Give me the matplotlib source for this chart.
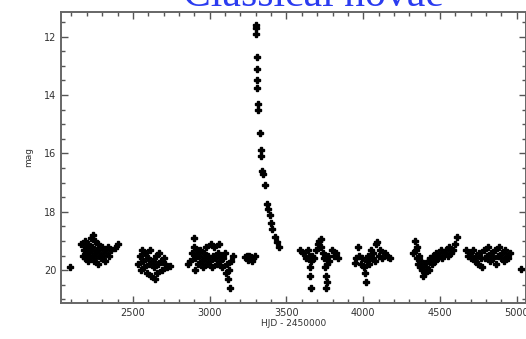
import numpy as np
import matplotlib
matplotlib.use("Agg")
import matplotlib.pyplot as plt
from matplotlib.ticker import MultipleLocator

# light curve points (HJD-2450000, mag)
c1_x = [2165, 2172, 2180, 2185, 2190, 2196, 2200, 2205, 2210, 2214, 2220, 2225, 2230, 2236, 2240, 2245, 2250,
        2256, 2260, 2266, 2270, 2276, 2282, 2290, 2296, 2302, 2310, 2318, 2325, 2335, 2345, 2360, 2385, 2405]
c1_y = [19.1, 19.5, 19.3, 19.0, 19.6, 19.2, 19.4, 19.7, 19.1, 19.5, 19.3, 18.9, 19.6, 19.2, 18.8, 19.4, 19.7,
        19.0, 19.5, 19.3, 19.8, 19.1, 19.4, 19.6, 19.2, 19.5, 19.3, 19.7, 19.4, 19.2, 19.5, 19.3, 19.25, 19.1]

c2_x = [2535, 2545, 2552, 2560, 2568, 2575, 2582, 2590, 2598, 2605, 2612, 2620, 2628,
        2635, 2642, 2650, 2658, 2665, 2672, 2680, 2690, 2700, 2712, 2725, 2740]
c2_y = [19.8, 19.5, 20.0, 19.3, 19.7, 19.9, 19.4, 20.1, 19.6, 19.8, 19.3, 20.2, 19.7,
        19.9, 20.3, 19.5, 20.1, 19.8, 19.4, 19.7, 20.0, 19.6, 19.8, 19.9, 19.85]

c3_x = [2858, 2870, 2885, 2895, 2898, 2902, 2905, 2910, 2918, 2925, 2932, 2940, 2948, 2955, 2962, 2970, 2978,
        2985, 2992, 3000, 3008, 3015, 3022, 3030, 3038, 3045, 3052, 3060, 3068, 3075, 3082, 3090, 3098,
        3105, 3112, 3118, 3125, 3132, 3140, 3150]
c3_y = [19.8, 19.7, 19.4, 18.9, 19.2, 19.6, 20.0, 19.5, 19.3, 19.8, 19.5, 19.3, 19.7, 19.9, 19.4, 19.6, 19.2,
        19.8, 19.5, 19.7, 19.1, 19.9, 19.5, 19.2, 19.6, 19.8, 19.4, 19.1, 19.7, 19.5, 19.9, 19.6, 19.4,
        20.1, 19.8, 20.3, 20.0, 20.6, 19.7, 19.5]

c4_x = [3232, 3240, 3248, 3255, 3262, 3270, 3278, 3285, 3292]
c4_y = [19.55, 19.5, 19.65, 19.5, 19.6, 19.55, 19.7, 19.6, 19.5]

nova_x = [3302, 3303, 3304, 3308, 3309, 3310, 3311, 3313, 3314, 3325, 3333, 3336,
          3343, 3346, 3362, 3374, 3378, 3390, 3398, 3408, 3425, 3438, 3450]
nova_y = [11.6, 11.7, 11.9, 12.7, 13.1, 13.5, 13.75, 14.3, 14.5, 15.3, 15.9, 16.1,
          16.6, 16.7, 17.1, 17.75, 17.9, 18.1, 18.4, 18.6, 18.85, 19.05, 19.2]

c5_x = [3590, 3605, 3625, 3640, 3648, 3652, 3655, 3658, 3662, 3668, 3680, 3695, 3705, 3715, 3722,
        3728, 3735, 3745, 3750, 3755, 3758, 3762, 3765, 3770, 3780, 3795, 3810, 3825, 3835]
c5_y = [19.3, 19.4, 19.6, 19.3, 19.5, 19.9, 20.2, 20.6, 19.7, 19.5, 19.6, 19.3, 19.1, 19.0, 18.95,
        19.2, 19.4, 19.6, 19.9, 20.2, 20.6, 20.4, 19.8, 19.5, 19.7, 19.3, 19.5, 19.4, 19.6]

c6_x = [3945, 3955, 3965, 3975, 3985, 3995, 4005, 4012, 4020, 4025, 4032, 4040,
        4048, 4055, 4065, 4075, 4085, 4092, 4100, 4110, 4125, 4140, 4160, 4175]
c6_y = [19.75, 19.6, 19.2, 19.5, 19.8, 19.6, 19.9, 20.1, 20.4, 19.7, 19.5, 19.8,
        19.3, 19.6, 19.4, 19.7, 19.1, 19.05, 19.5, 19.3, 19.6, 19.4, 19.55, 19.6]

c7_x = [4325, 4340, 4345, 4350, 4352, 4355, 4360, 4368, 4375, 4382, 4390, 4398, 4405, 4412, 4420, 4428, 4436,
        4445, 4455, 4465, 4475, 4485, 4495, 4505, 4515, 4525, 4540, 4550, 4560, 4572, 4585, 4595, 4608]
c7_y = [19.4, 19.0, 19.3, 19.6, 19.2, 19.8, 19.5, 19.9, 19.7, 20.0, 20.2, 19.8, 20.1, 19.9, 19.7, 20.0, 19.6,
        19.8, 19.5, 19.7, 19.4, 19.6, 19.5, 19.3, 19.6, 19.4, 19.3, 19.5, 19.2, 19.4, 19.3, 19.1, 18.85]

c8_x = [4672, 4685, 4695, 4705, 4715, 4725, 4735, 4745, 4755, 4765, 4775, 4785, 4795, 4805, 4815,
        4825, 4835, 4845, 4855, 4865, 4875, 4885, 4895, 4905, 4915, 4925, 4935, 4945, 4955]
c8_y = [19.3, 19.5, 19.4, 19.6, 19.3, 19.7, 19.5, 19.8, 19.4, 19.6, 19.9, 19.3, 19.6, 19.5, 19.2,
        19.7, 19.4, 19.6, 19.3, 19.8, 19.5, 19.2, 19.6, 19.4, 19.7, 19.3, 19.5, 19.6, 19.4]

extra_x = [2090, 5030]
extra_y = [19.9, 19.95]

hjd = np.concatenate([c1_x, c2_x, c3_x, c4_x, nova_x, c5_x, c6_x, c7_x, c8_x, extra_x])
mag = np.concatenate([c1_y, c2_y, c3_y, c4_y, nova_y, c5_y, c6_y, c7_y, c8_y, extra_y])

fig = plt.figure(figsize=(5.26, 3.39), dpi=100)
ax = fig.add_axes([0.116, 0.106, 0.884, 0.859])

ax.plot(hjd, mag, linestyle="none", marker="P", markersize=5, color="black")

ax.set_xlim(2032, 5060)
ax.set_ylim(21.13, 11.15)
ax.xaxis.set_major_locator(MultipleLocator(500))
ax.xaxis.set_minor_locator(MultipleLocator(100))
ax.yaxis.set_major_locator(MultipleLocator(2))
ax.yaxis.set_minor_locator(MultipleLocator(0.5))
ax.tick_params(which="both", direction="in", top=True, right=True, colors="#555555",
               labelsize=7, labelcolor="#333333")
ax.tick_params(which="major", length=5, width=1)
ax.tick_params(which="minor", length=3, width=1)
for s in ax.spines.values():
    s.set_color("#666666")
    s.set_linewidth(1.4)

ax.set_xlabel("HJD - 2450000", fontsize=6.5, color="#333333", labelpad=1)
ax.set_ylabel("mag", fontsize=6.5, color="#333333", labelpad=8)

fig.text(0.595, 0.982, "Classical novae", fontsize=30, family="Liberation Serif",
         color="#2b3cf0", ha="center", va="baseline")

fig.savefig("out.png", dpi=100)
